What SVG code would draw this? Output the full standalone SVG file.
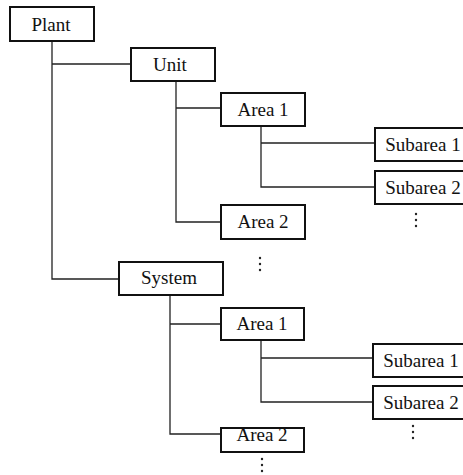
<svg xmlns="http://www.w3.org/2000/svg" width="463" height="475" viewBox="0 0 463 475">
<style>
.box{fill:#fff;stroke:#111;stroke-width:2}
.lbl{font-family:"Liberation Serif",serif;font-size:19px;fill:#111;text-anchor:middle}
.ln{fill:none;stroke:#222;stroke-width:1.3}
.dot{fill:#222}
</style>
<rect width="463" height="475" fill="#fff"/>
<g id="connectors">
<path class="ln" d="M52 41V279H119M52 64H131"/>
<path class="ln" d="M176 81V222H221M176 108H221"/>
<path class="ln" d="M261 126V187H375M261 143H375"/>
<path class="ln" d="M170 295V434H221M170 324H221"/>
<path class="ln" d="M261 340V402H373M261 358H373"/>
</g>
<g id="plant"><rect class="box" x="10" y="7" width="84" height="34"/><text class="lbl" x="51" y="31">Plant</text></g>
<g id="unit"><rect class="box" x="131" y="48" width="84" height="33"/><text class="lbl" x="170" y="71">Unit</text></g>
<g id="area1a"><rect class="box" x="221" y="93" width="84" height="33"/><text class="lbl" x="263" y="116">Area 1</text></g>
<g id="subarea1a"><rect class="box" x="375" y="128" width="95" height="33"/><text class="lbl" x="423" y="151">Subarea 1</text></g>
<g id="subarea2a"><rect class="box" x="375" y="171" width="95" height="33"/><text class="lbl" x="423" y="194">Subarea 2</text></g>
<g id="area2a"><rect class="box" x="221" y="205" width="84" height="34"/><text class="lbl" x="263" y="228">Area 2</text></g>
<g id="system"><rect class="box" x="119" y="262" width="104" height="33"/><text class="lbl" x="169" y="284">System</text></g>
<g id="area1b"><rect class="box" x="221" y="308" width="83" height="32"/><text class="lbl" x="262" y="330">Area 1</text></g>
<g id="subarea1b"><rect class="box" x="373" y="344" width="97" height="33"/><text class="lbl" x="421" y="367">Subarea 1</text></g>
<g id="subarea2b"><rect class="box" x="373" y="386" width="97" height="33"/><text class="lbl" x="421" y="409">Subarea 2</text></g>
<g id="area2b"><rect class="box" x="221" y="428" width="83" height="24"/><text class="lbl" x="262" y="441">Area 2</text></g>
<g id="dots">
<circle class="dot" cx="416" cy="214" r="1.2"/><circle class="dot" cx="416" cy="220" r="1.2"/><circle class="dot" cx="416" cy="226" r="1.2"/>
<circle class="dot" cx="260" cy="258" r="1.2"/><circle class="dot" cx="260" cy="264" r="1.2"/><circle class="dot" cx="260" cy="270" r="1.2"/>
<circle class="dot" cx="413" cy="426" r="1.2"/><circle class="dot" cx="413" cy="432" r="1.2"/><circle class="dot" cx="413" cy="438" r="1.2"/>
<circle class="dot" cx="262" cy="459" r="1.2"/><circle class="dot" cx="262" cy="465" r="1.2"/><circle class="dot" cx="262" cy="471" r="1.2"/>
</g>
</svg>
